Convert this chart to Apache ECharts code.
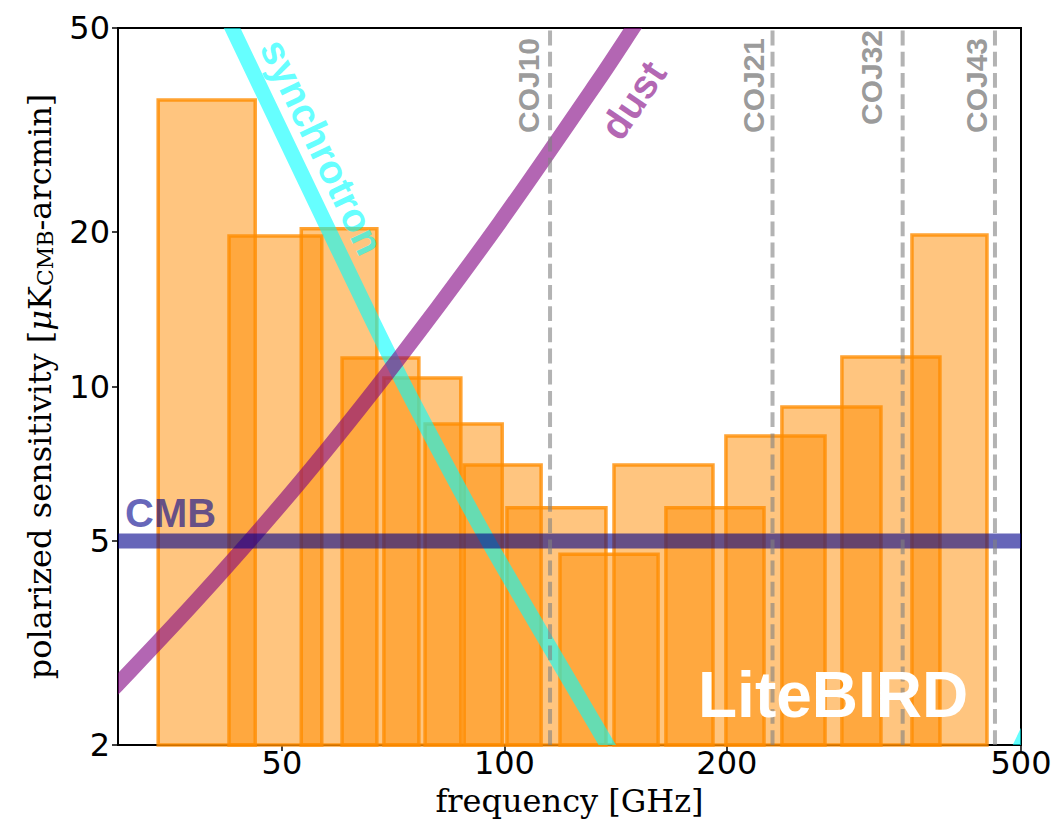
<!DOCTYPE html>
<html>
<head>
<meta charset="utf-8">
<script src="https://cdn.jsdelivr.net/npm/echarts@6/dist/echarts.min.js"></script>
<style>
html,body{margin:0;padding:0;background:#ffffff;}
#chart{width:1057px;height:824px;}
</style>
</head>
<body>
<div id="chart"></div>
<script>
// ---------- data ----------
// LiteBIRD bands: lower / upper band edge [GHz] and polarized sensitivity [uK_CMB-arcmin]
const bandLow  = [34.0, 42.4, 53.1, 60.3, 68.7, 78.1, 88.2, 100.8, 118.9, 140.7, 165.4, 199.4, 237.4, 286.2, 356.0];
const bandHigh = [46.0, 56.6, 67.2, 76.6, 87.3, 99.3, 112.1, 137.2, 161.4, 191.5, 224.5, 271.5, 323.2, 388.4, 449.7];
const sensitivity = [36.2, 19.65, 20.3, 11.36, 10.39, 8.45, 7.03, 5.80, 4.71, 7.03, 5.80, 8.01, 9.12, 11.41, 19.74];

// synchrotron foreground (two visible pieces)
const synchFreq  = [40.0, 42.8, 52.9, 66.2, 75.0, 95.0, 137.2, 145.0];
const synchValue = [61.0, 50.0, 26.4, 13.48, 9.41, 5.0, 2.02, 1.77];
const synchHiFreq  = [460, 480, 500, 520];
const synchHiValue = [1.56, 1.77, 2.0, 2.25];

// dust foreground
const dustFreq  = [28.4, 30.0, 38.7, 52.9, 72.2, 98.6, 134.6, 149.3, 162.4];
const dustValue = [2.43, 2.63, 3.89, 6.51, 11.41, 20.9, 39.9, 50.0, 60.2];

// CMB level
const cmbFreq  = [30, 500];
const cmbValue = [5, 5];

// CO lines
const coLabels = ['COJ10', 'COJ21', 'COJ32', 'COJ43'];
const coFreq   = [115.27, 230.54, 345.80, 461.04];

// axes
const xTicks = [50, 100, 200, 500];
const yTicks = [2, 5, 10, 20, 50];
const X_MIN = 30, X_MAX = 500, Y_MIN = 2, Y_MAX = 50;

// ---------- styling ----------
const FONT_SANS  = '"Liberation Sans", Arial, Helvetica, sans-serif';
const FONT_TICK  = '"DejaVu Sans", sans-serif';
const FONT_SERIF = '"DejaVu Serif", serif';
const coLabelDx = [-22, -19, -31, -18];
const coLabelDy = [105, 105, 97, 105];

const chart = echarts.init(document.getElementById('chart'), null, {renderer: 'svg'});

function pairs(xs, ys) { return xs.map((x, i) => [x, ys[i]]); }

// thick foreground curve drawn through the axes' scales, clipped exactly to the plot area
function curveSeries(name, xs, ys, color, smooth) {
  return {
    type: 'custom', name: name, z: 3, silent: true, clip: true,
    data: pairs(xs, ys), encode: {x: 0, y: 1},
    renderItem: function (params, api) {
      if (params.dataIndex !== 0) return null;
      const pts = xs.map((x, i) => api.coord([x, ys[i]]));
      return {
        type: 'polyline',
        shape: {points: pts, smooth: smooth},
        style: {stroke: color, lineWidth: 15, fill: null, lineCap: 'butt', lineJoin: 'round'}
      };
    }
  };
}

const option = {
  animation: false,
  backgroundColor: '#ffffff',
  grid: {
    left: 118, right: 36, top: 28, bottom: 79,
    show: true, borderColor: '#000', borderWidth: 2, backgroundColor: 'transparent',
    outerBoundsMode: 'none'
  },
  xAxis: {
    type: 'log', logBase: 10, min: X_MIN, max: X_MAX,
    axisLine: {show: true, lineStyle: {color: '#000', width: 2}},
    axisTick: {show: true, length: 6, lineStyle: {color: '#000', width: 1.5}, customValues: xTicks},
    axisLabel: {customValues: xTicks, fontSize: 32, fontFamily: FONT_TICK, color: '#000', margin: 2},
    splitLine: {show: false}, minorTick: {show: false}, minorSplitLine: {show: false},
    name: 'frequency [GHz]', nameLocation: 'middle', nameGap: 40, nameMoveOverlap: false,
    nameTextStyle: {fontSize: 32, fontFamily: FONT_SERIF, color: '#000'}
  },
  yAxis: {
    type: 'log', logBase: 10, min: Y_MIN, max: Y_MAX,
    axisLine: {show: true, lineStyle: {color: '#000', width: 2}},
    axisTick: {show: true, length: 6, lineStyle: {color: '#000', width: 1.5}, customValues: yTicks},
    axisLabel: {customValues: yTicks, fontSize: 32, fontFamily: FONT_TICK, color: '#000', margin: 8},
    splitLine: {show: false}, minorTick: {show: false}, minorSplitLine: {show: false},
    name: '{n|polarized sensitivity [}{m|μ}{n|K}{s|CMB}{n|-arcmin]}',
    nameLocation: 'middle', nameGap: 62, nameRotate: 90, nameMoveOverlap: false,
    nameTextStyle: {
      color: '#000', fontSize: 32, fontFamily: FONT_SERIF,
      rich: {
        n: {fontSize: 32, fontFamily: FONT_SERIF, color: '#000', lineHeight: 36, verticalAlign: 'bottom'},
        m: {fontSize: 32, fontFamily: FONT_SERIF, fontStyle: 'italic', color: '#000', lineHeight: 36, verticalAlign: 'bottom'},
        s: {fontSize: 22, fontFamily: FONT_SERIF, color: '#000', lineHeight: 22, verticalAlign: 'bottom'}
      }
    }
  },
  series: [
    {
      type: 'custom', name: 'bands', z: 2, silent: true,
      data: bandLow.map((lo, i) => [lo, sensitivity[i], bandHigh[i]]),
      encode: {x: 0, y: 1},
      renderItem: function (params, api) {
        const lo = api.value(0), s = api.value(1), hi = api.value(2);
        const a = api.coord([lo, s]);
        const b = api.coord([hi, Y_MIN]);
        return {
          type: 'rect',
          shape: {x: a[0], y: a[1], width: b[0] - a[0], height: b[1] - a[1]},
          style: {fill: 'rgba(255,140,0,0.5)', stroke: 'rgba(255,140,0,0.8)', lineWidth: 3.5}
        };
      }
    },
    curveSeries('synchrotron', synchFreq, synchValue, 'rgba(0,255,255,0.6)', 0.2),
    curveSeries('synchrotron-high', synchHiFreq, synchHiValue, 'rgba(0,255,255,0.6)', 0.2),
    curveSeries('dust', dustFreq, dustValue, 'rgba(128,0,128,0.6)', 0.3),
    curveSeries('CMB', cmbFreq, cmbValue, 'rgba(0,0,139,0.6)', 0),
    {
      type: 'custom', name: 'CO lines', z: 4, silent: true,
      data: coFreq.map((f, i) => [f, Y_MAX, i]),
      encode: {x: 0, y: 1},
      renderItem: function (params, api) {
        const f = api.value(0), i = api.value(2);
        const bot = api.coord([f, Y_MIN]);
        const top = api.coord([f, Y_MAX]);
        return {
          type: 'group',
          children: [
            {
              type: 'line',
              shape: {x1: bot[0], y1: bot[1], x2: top[0], y2: top[1]},
              style: {stroke: 'rgba(128,128,128,0.6)', lineWidth: 4, lineDash: [14.8, 6.4]}
            },
            {
              type: 'text',
              x: top[0] + coLabelDx[i], y: top[1] + coLabelDy[i],
              rotation: Math.PI / 2,
              style: {
                text: coLabels[i], fill: 'rgba(128,128,128,0.8)',
                fontSize: 30, fontWeight: 'bold', fontFamily: FONT_SANS,
                align: 'left', verticalAlign: 'middle'
              }
            }
          ]
        };
      }
    }
  ],
  graphic: [
    {
      type: 'text', x: 125, y: 513, z: 20, silent: true,
      style: {text: 'CMB', fill: 'rgba(0,0,139,0.6)', fontSize: 40, fontWeight: 'bold',
              fontFamily: FONT_SANS, align: 'left', verticalAlign: 'middle'}
    },
    {
      type: 'text', x: 322, y: 147, rotation: -1.124, z: 20, silent: true,
      style: {text: 'synchrotron', fill: 'rgba(0,255,255,0.6)', fontSize: 40, fontWeight: 'bold',
              fontFamily: FONT_SANS, align: 'center', verticalAlign: 'middle'}
    },
    {
      type: 'text', x: 633, y: 100, rotation: 0.977, z: 20, silent: true,
      style: {text: 'dust', fill: 'rgba(128,0,128,0.6)', fontSize: 40, fontWeight: 'bold',
              fontFamily: FONT_SANS, align: 'center', verticalAlign: 'middle'}
    },
    {
      type: 'text', x: 698, y: 695, z: 20, silent: true,
      style: {text: 'LiteBIRD', fill: '#ffffff', fontSize: 64, fontWeight: 'bold',
              fontFamily: FONT_SANS, align: 'left', verticalAlign: 'middle'}
    }
  ]
};

chart.setOption(option);
</script>
</body>
</html>
